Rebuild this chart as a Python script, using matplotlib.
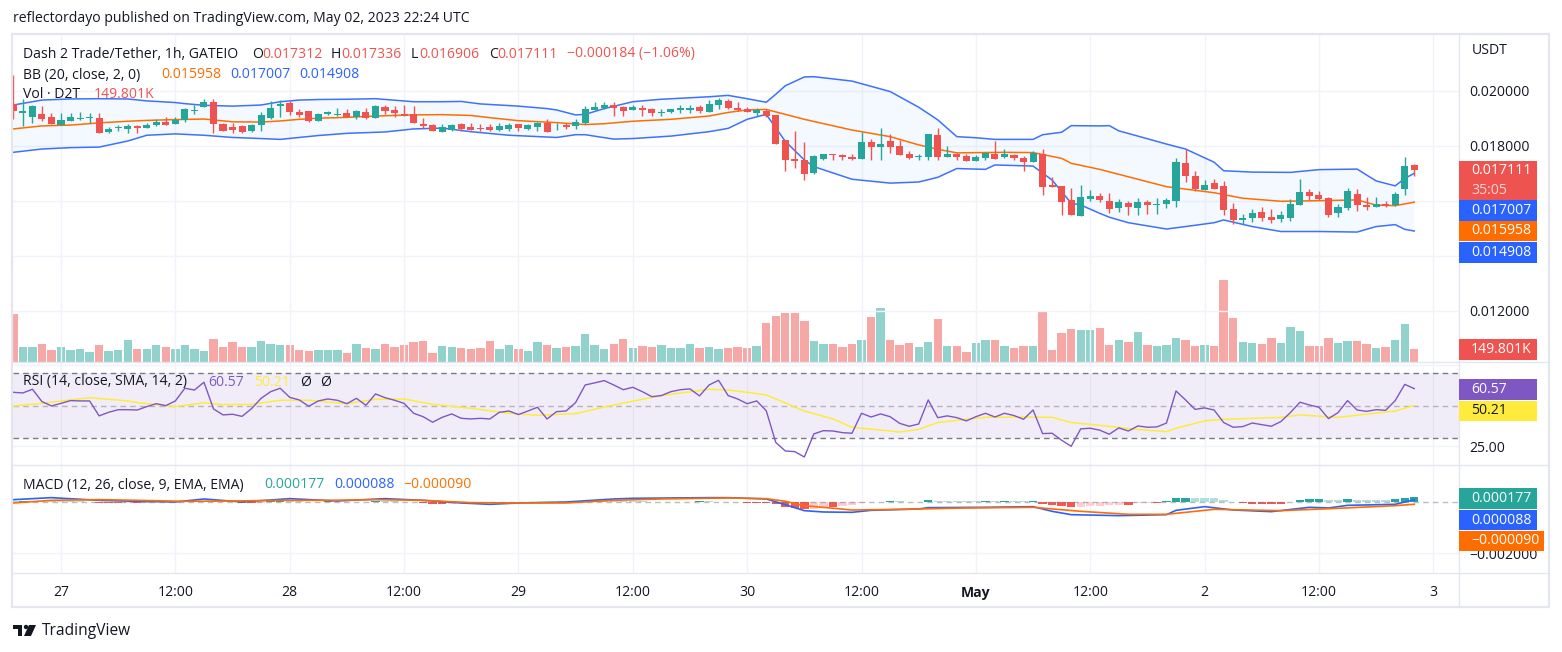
"""Dash 2 Trade/Tether 1h chart, TradingView style."""
import matplotlib
matplotlib.use('Agg')
import matplotlib.pyplot as plt
import numpy as np
from matplotlib.patches import Circle, Polygon, Rectangle

W, H = 1562, 652
LEFT, RIGHT = 13, 1459
TOP, VOL_BOTTOM, RSI_BOTTOM, MACD_BOTTOM, FRAME_BOTTOM = 35, 362, 465, 573, 607

GREEN = '#26a69a'
RED = '#ef5350'
BLUE = '#2962ff'
ORANGE = '#ff6d00'
PURPLE = '#7e57c2'
YELLOW = '#ffeb3b'
GRID = '#f0f3fa'
FRAME = '#e4e6ee'
TEXT = '#131722'

# prices in thousandths of USDT, hour -5 .. 142 (hour 0 is Apr 27 00:00)
open_m = [19.53, 19.21, 19.07, 19.15, 19.05,
          18.76, 18.92, 18.99, 19.01, 19.02, 18.51, 18.64, 18.61, 18.73, 18.67,
          18.76, 18.87, 18.81, 18.95, 19.28, 19.43, 19.59, 18.80, 18.68, 18.73,
          18.55, 18.78, 19.02, 19.47, 19.55, 19.24, 19.26, 18.92, 19.18, 19.14,
          19.19, 19.07, 19.22, 19.03, 19.42, 19.31, 19.16, 19.16, 18.80, 18.76,
          18.51, 18.59, 18.80, 18.69, 18.65, 18.69, 18.58, 18.62, 18.80, 18.62,
          18.69, 18.84, 18.68, 18.75, 18.73, 18.84, 19.31, 19.38, 19.49, 19.42,
          19.31, 19.38, 19.35, 19.21, 19.24, 19.31, 19.31, 19.42, 19.24, 19.49,
          19.64, 19.38, 19.35, 19.20, 19.27, 19.13, 18.22, 17.53, 17.49, 17.02,
          17.53, 17.71, 17.67, 17.60, 17.53, 18.15, 17.96, 18.18, 18.00, 17.71,
          17.60, 17.60, 18.40, 17.60, 17.71, 17.64, 17.45, 17.56, 17.71, 17.60,
          17.67, 17.56, 17.42, 17.71, 16.58, 16.55, 16.04, 15.45, 16.07, 16.18,
          16.00, 15.75, 15.93, 15.75, 15.96, 15.85, 15.89, 16.00, 17.38, 16.91,
          16.40, 16.65, 16.55, 15.71, 15.31, 15.38, 15.60, 15.42, 15.35, 15.38,
          15.85, 16.33, 16.22, 16.11, 15.56, 15.75, 16.26, 15.85, 15.78, 15.89,
          15.85, 16.44, 17.312]
high_m = [20.58, 19.70, 19.49, 19.45, 19.19,
          19.19, 19.21, 19.22, 19.19, 19.19, 18.70, 18.76, 18.80, 18.76, 18.82,
          18.97, 19.04, 19.04, 19.37, 19.49, 19.70, 19.72, 18.82, 18.82, 18.76,
          18.80, 19.25, 19.65, 19.67, 19.65, 19.35, 19.27, 19.21, 19.28, 19.37,
          19.33, 19.31, 19.37, 19.49, 19.49, 19.45, 19.49, 19.45, 19.01, 18.80,
          18.79, 18.80, 18.85, 18.82, 18.80, 18.80, 18.82, 18.82, 18.80, 18.80,
          18.88, 18.98, 18.82, 18.84, 18.97, 19.45, 19.60, 19.60, 19.60, 19.45,
          19.49, 19.49, 19.38, 19.35, 19.35, 19.49, 19.49, 19.49, 19.67, 19.75,
          19.71, 19.60, 19.42, 19.37, 19.33, 19.13, 18.22, 18.55, 18.15, 17.67,
          17.71, 17.71, 17.71, 17.71, 18.51, 18.25, 18.65, 18.44, 18.22, 17.82,
          17.71, 18.44, 18.65, 18.00, 17.73, 17.71, 17.67, 17.75, 18.18, 17.89,
          17.71, 17.64, 17.82, 17.89, 16.87, 16.55, 16.47, 16.58, 16.40, 16.29,
          16.29, 16.07, 16.00, 16.11, 16.04, 16.11, 16.11, 17.56, 17.89, 17.09,
          16.76, 16.80, 16.73, 15.93, 15.53, 15.71, 15.78, 15.71, 15.64, 16.07,
          16.80, 16.44, 16.36, 16.15, 15.89, 16.47, 16.44, 16.15, 16.15, 16.00,
          16.33, 17.60, 17.336]
low_m = [18.99, 18.74, 18.85, 18.92, 18.80,
         18.76, 18.91, 18.95, 18.85, 18.48, 18.48, 18.56, 18.48, 18.48, 18.65,
         18.74, 18.75, 18.80, 18.88, 19.16, 19.41, 18.48, 18.55, 18.48, 18.48,
         18.50, 18.56, 18.97, 19.04, 19.13, 19.07, 18.87, 18.91, 19.11, 19.09,
         19.05, 18.98, 18.99, 19.01, 19.16, 19.04, 19.09, 18.84, 18.64, 18.53,
         18.51, 18.55, 18.55, 18.57, 18.56, 18.55, 18.55, 18.55, 18.55, 18.58,
         18.55, 18.51, 18.58, 18.62, 18.62, 18.80, 19.30, 19.35, 19.09, 19.09,
         19.30, 19.09, 19.09, 19.09, 19.20, 19.20, 19.20, 19.20, 19.24, 19.35,
         19.35, 19.27, 19.24, 19.09, 19.06, 18.07, 17.09, 17.20, 16.76, 16.98,
         17.49, 17.49, 17.49, 17.49, 17.53, 17.49, 17.49, 17.75, 17.67, 17.53,
         17.49, 17.49, 17.49, 17.59, 17.49, 17.45, 17.45, 17.49, 17.52, 17.56,
         17.49, 17.09, 17.42, 16.22, 16.51, 15.49, 15.49, 15.45, 16.00, 15.98,
         15.56, 15.60, 15.49, 15.49, 15.53, 15.53, 15.75, 15.78, 16.69, 16.36,
         16.40, 16.44, 15.49, 15.16, 15.16, 15.24, 15.27, 15.20, 15.24, 15.27,
         15.85, 16.04, 16.04, 15.42, 15.42, 15.67, 15.64, 15.67, 15.78, 15.78,
         15.82, 16.22, 16.906]
close_m = [19.28, 19.27, 19.45, 18.98, 18.81,
           18.95, 19.05, 19.03, 19.05, 18.48, 18.62, 18.69, 18.73, 18.67, 18.76,
           18.86, 18.78, 18.95, 19.33, 19.31, 19.59, 18.79, 18.56, 18.59, 18.51,
           18.76, 19.13, 19.37, 19.53, 19.25, 19.14, 18.91, 19.18, 19.24, 19.18,
           19.07, 19.26, 19.03, 19.45, 19.27, 19.19, 19.10, 18.84, 18.73, 18.55,
           18.69, 18.76, 18.62, 18.58, 18.62, 18.58, 18.73, 18.76, 18.65, 18.76,
           18.84, 18.51, 18.70, 18.70, 18.87, 19.35, 19.42, 19.49, 19.38, 19.27,
           19.42, 19.31, 19.20, 19.25, 19.35, 19.38, 19.37, 19.27, 19.53, 19.67,
           19.38, 19.31, 19.24, 19.31, 19.09, 18.07, 17.49, 17.45, 16.98, 17.64,
           17.71, 17.67, 17.60, 17.53, 18.15, 17.96, 18.07, 17.96, 17.67, 17.56,
           17.65, 18.44, 17.60, 17.71, 17.60, 17.45, 17.60, 17.75, 17.53, 17.71,
           17.56, 17.42, 17.75, 16.51, 16.51, 15.96, 15.49, 16.15, 16.18, 16.04,
           15.71, 15.96, 15.78, 15.96, 15.85, 15.89, 16.04, 17.42, 16.91, 16.44,
           16.58, 16.44, 15.67, 15.31, 15.38, 15.56, 15.38, 15.31, 15.49, 15.89,
           16.33, 16.18, 16.07, 15.49, 15.78, 16.36, 15.85, 15.78, 15.89, 15.82,
           16.26, 17.27, 17.111]

# thousands
volume_k = [543, 172, 172, 206, 139,
            172, 139, 150, 116, 195, 127, 139, 251, 150, 150,
            195, 172, 150, 195, 150, 127, 262, 172, 228, 172,
            172, 240, 206, 195, 195, 139, 127, 139, 139, 139,
            105, 206, 161, 150, 206, 172, 195, 228, 240, 105,
            184, 172, 161, 150, 161, 240, 150, 195, 150, 127,
            228, 195, 161, 172, 184, 318, 195, 150, 206, 262,
            161, 184, 172, 195, 161, 161, 206, 161, 172, 150,
            161, 172, 161, 184, 442, 521, 554, 554, 464, 240,
            206, 206, 172, 206, 251, 509, 610, 251, 195, 217,
            172, 228, 487, 184, 184, 116, 217, 251, 251, 184,
            161, 184, 184, 565, 139, 330, 375, 363, 363, 386,
            195, 251, 228, 341, 195, 184, 195, 273, 251, 184,
            195, 184, 925, 498, 228, 217, 206, 273, 217, 397,
            352, 184, 184, 273, 217, 240, 240, 206, 161, 172,
            251, 431, 149.801]

rsi = [58.3, 57.9, 60.2, 52.6, 49.9,
       51.5, 53.2, 53.0, 53.0, 43.8, 46.0, 47.6, 47.6, 47.4, 49.5,
       51.3, 50.1, 53.0, 60.8, 59.7, 64.5, 48.1, 44.4, 44.8, 43.5,
       48.3, 54.6, 58.7, 60.8, 55.2, 53.6, 49.7, 53.0, 54.2, 53.4,
       51.3, 54.6, 50.3, 57.3, 55.0, 53.4, 51.5, 45.4, 43.3, 39.9,
       42.9, 45.0, 42.3, 41.9, 42.3, 41.9, 46.0, 46.8, 44.6, 46.8,
       49.1, 41.9, 46.4, 46.8, 52.0, 62.8, 64.1, 65.5, 62.8, 59.9,
       61.4, 58.7, 55.6, 56.3, 58.7, 59.9, 60.4, 56.1, 62.8, 65.7,
       56.3, 54.2, 51.3, 53.0, 47.0, 27.5, 22.2, 21.8, 18.5, 32.7,
       34.7, 34.5, 33.5, 33.1, 45.4, 43.1, 45.0, 43.3, 39.2, 37.4,
       38.8, 53.6, 42.7, 43.8, 42.7, 40.7, 43.3, 45.4, 43.1, 45.4,
       44.0, 41.7, 47.4, 32.9, 33.1, 28.8, 25.1, 35.8, 36.2, 35.0,
       32.5, 36.4, 34.5, 37.6, 36.8, 37.0, 39.4, 59.1, 53.6, 47.8,
       48.7, 47.4, 39.7, 36.8, 37.2, 39.4, 38.4, 37.4, 40.3, 45.8,
       52.2, 50.5, 49.1, 42.1, 45.8, 53.2, 47.4, 46.6, 47.6, 47.2,
       53.2, 63.2, 60.57]

# millionths of USDT
macd_hist_u = [26, 39, 39, 39, 39,
               26, 26, 26, 13, -26, -52, -52, -39, -39, -26,
               -13, -13, 13, 39, 39, 52, 26, 13, -13, -26,
               -39, -26, 26, 39, 39, 26, 13, 13, 26, 13,
               13, 13, 13, 39, 39, 26, 13, -13, -39, -78,
               -91, -65, -39, -13, -13, -13, -13, -13, -13, -13,
               -13, -13, -13, -13, 13, 39, 65, 65, 26, 26,
               26, 26, 13, 13, 13, 13, 13, 26, 26, 13,
               13, 0, -26, -26, -52, -91, -208, -234, -286, -273,
               -182, -182, -169, -130, -26, -13, 13, 52, 39, 13,
               13, 91, 39, 39, 39, 39, 39, 52, 39, 52,
               39, 39, 52, -65, -117, -169, -195, -182, -156, -143,
               -130, -104, -104, -39, -26, -26, 52, 169, 175, 169,
               169, 169, 91, 13, -26, -65, -65, -65, -65, 13,
               91, 100, 130, 91, 91, 130, 91, 91, 85, 85,
               100, 165, 177]

# Bollinger bands, read where the lines bend
bb_up_hours = [-5, -2, 1, 4, 7, 9, 12, 13, 15, 18, 21, 23, 25, 27, 30, 33, 37, 40, 42, 44, 48,
               51, 52, 54, 55, 57, 60, 63, 68, 70, 72, 74, 75, 76, 78, 79, 83, 87, 90, 92, 94,
               96, 98, 102, 103, 105, 106, 109, 110, 111, 113, 116, 118, 121, 122, 125, 129,
               132, 136, 138, 140, 141, 142]
bb_up = [19.49, 19.67, 19.71, 19.72, 19.71, 19.64, 19.58, 19.54, 19.48, 19.45, 19.49, 19.61,
         19.67, 19.69, 19.70, 19.72, 19.61, 19.61, 19.62, 19.53, 19.45, 19.36, 19.31, 19.13,
         19.15, 19.36, 19.61, 19.70, 19.79, 19.84, 19.72, 19.59, 19.88, 20.19, 20.51, 20.52,
         20.36, 19.98, 19.41, 18.95, 18.34, 18.30, 18.24, 18.24, 18.41, 18.50, 18.74, 18.73,
         18.74, 18.55, 18.36, 18.07, 17.89, 17.41, 17.10, 17.05, 17.04, 17.14, 17.16, 16.73,
         16.55, 16.82, 17.007]
bb_mid_hours = [-5, -2, 1, 4, 7, 9, 12, 15, 18, 21, 23, 25, 27, 30, 33, 37, 40, 43, 45, 48, 52,
                55, 57, 60, 64, 68, 70, 72, 74, 78, 83, 87, 90, 92, 94, 99, 102, 105, 106, 109,
                111, 116, 121, 124, 128, 132, 136, 138, 140, 142]
bb_mid = [18.62, 18.73, 18.76, 18.84, 18.90, 18.93, 18.96, 18.98, 18.88, 18.87, 18.91, 18.97,
          19.01, 19.04, 19.09, 19.13, 19.14, 19.11, 19.03, 18.92, 18.85, 18.78, 18.81, 18.90,
          18.97, 19.09, 19.22, 19.31, 19.33, 18.97, 18.58, 18.34, 18.04, 17.88, 17.75, 17.77,
          17.76, 17.55, 17.37, 17.15, 16.97, 16.52, 16.30, 16.10, 15.99, 16.01, 16.04, 15.85,
          15.83, 15.958]
bb_low_hours = [-5, -2, 1, 4, 7, 9, 12, 15, 18, 21, 23, 25, 27, 30, 34, 37, 40, 43, 47, 52, 54,
                55, 58, 60, 64, 68, 70, 72, 74, 76, 78, 79, 83, 87, 90, 92, 94, 97, 98, 102,
                104, 106, 107, 109, 110, 112, 116, 118, 121, 122, 125, 128, 132, 136, 138, 140,
                141, 142]
bb_low = [17.77, 17.89, 17.94, 17.96, 18.18, 18.39, 18.44, 18.39, 18.31, 18.27, 18.24, 18.31,
          18.38, 18.46, 18.51, 18.62, 18.65, 18.52, 18.39, 18.31, 18.41, 18.41, 18.25, 18.27,
          18.36, 18.52, 18.64, 18.97, 19.15, 18.17, 17.49, 17.25, 16.79, 16.65, 16.69, 16.86,
          17.18, 17.15, 17.31, 17.27, 16.76, 15.92, 15.855, 15.55, 15.41, 15.21, 14.98, 15.07,
          15.21, 15.31, 15.07, 14.89, 14.89, 14.87, 15.07, 15.14, 14.97, 14.908]

rsi_ma_hours = [-5, -2, 3, 7, 8, 12, 15, 17, 20, 23, 26, 30, 33, 36, 39, 43, 47, 50, 54, 58, 63,
                68, 70, 72, 74, 78, 81, 83, 88, 90, 92, 95, 97, 101, 104, 106, 108, 113, 116,
                117, 120, 122, 128, 130, 134, 140, 142]
rsi_ma = [49.9, 51.5, 55.0, 53.0, 52.0, 49.5, 51.8, 50.7, 50.9, 53.4, 53.4, 51.3, 54.0, 54.2,
          50.9, 48.5, 45.4, 44.2, 45.2, 50.5, 56.3, 60.2, 59.7, 58.3, 56.7, 46.8, 41.9, 36.8,
          33.9, 35.5, 39.7, 41.7, 42.9, 43.1, 42.9, 39.7, 38.6, 35.4, 34.1, 36.2, 40.7, 41.7,
          42.9, 44.4, 42.9, 46.8, 50.21]

macd_hours = [-5, -1, 4, 8, 12, 15, 19, 24, 29, 34, 38, 42, 45, 48, 53, 58, 60, 68, 70, 74, 76,
              78, 80, 83, 85, 90, 91, 97, 102, 104, 106, 111, 116, 117, 120, 123, 127, 131,
              133, 135, 140, 142]
macd_u = [91, 170, 65, 26, 0, 118, 0, 131, 39, 131, 65, -39, -92, -39, 0, 118, 144, 170, 170,
          118, -105, -340, -392, -405, -327, -274, -222, -209, -183, -366, -497, -536, -497,
          -327, -183, -314, -379, -209, -235, -131, -92, 88]
signal_hours = [-5, -1, 4, 8, 13, 18, 23, 28, 33, 38, 43, 48, 53, 58, 63, 70, 74, 76, 78, 83,
                86, 90, 95, 102, 107, 112, 116, 121, 128, 134, 140, 142]
signal_u = [-39, 65, 91, 65, 26, 39, 65, 65, 91, 65, -26, -39, -39, 65, 118, 157, 131, 26,
            -144, -314, -301, -274, -235, -209, -366, -484, -484, -288, -340, -248, -144, -90]

tick_hours = [0, 12, 24, 36, 48, 60, 72, 84, 96, 108, 120, 132, 144]
tick_labels = ['27', '12:00', '28', '12:00', '29', '12:00', '30', '12:00', 'May', '12:00', '2',
               '12:00', '3']
price_ticks = [0.012, 0.014, 0.016, 0.018, 0.020]
price_tick_labels = ['0.012000', '', '', '0.018000', '0.020000']


def pane(y0, y1):
    ax = fig.add_axes([LEFT / W, 1 - y1 / H, (RIGHT - LEFT) / W, (y1 - y0) / H])
    ax.set_xlim((LEFT - 61) / 9.53, (RIGHT - 61) / 9.53)
    for spine in ax.spines.values():
        spine.set_visible(False)
    ax.yaxis.tick_right()
    ax.tick_params(length=0, labelsize=FS, labelcolor=TEXT, labelbottom=False, pad=7.5)
    ax.set_xticks(tick_hours)
    ax.grid(True, color=GRID, lw=1)
    ax.set_axisbelow(True)
    return ax


def tag(y0, y1, text, color, right=1537):
    over.add_patch(Rectangle((RIGHT, y0), right - RIGHT, y1 - y0, color=color, lw=0, zorder=3))
    over.text(1471, (y0 + y1) / 2, text, color='white', fontsize=FS, va='center', zorder=4)


def label(x, y, text, color=TEXT):
    over.text(x, y, text, color=color, fontsize=FS, va='center')


plt.rcParams['font.family'] = ['Open Sans', 'DejaVu Sans']
FS = 10.1

fig = plt.figure(figsize=(W / 100, H / 100), dpi=100, facecolor='white')

hours = np.arange(-5, -5 + len(close_m))
opens = np.array(open_m) / 1000
highs = np.array(high_m) / 1000
lows = np.array(low_m) / 1000
closes = np.array(close_m) / 1000
colors = [GREEN if c >= o else RED for o, c in zip(opens, closes)]

# price pane with volume underneath
ax_price = pane(TOP, VOL_BOTTOM)
ax_vol = ax_price.twinx()
ax_price.yaxis.tick_right()
ax_vol.set_zorder(1)
ax_price.set_zorder(2)
ax_price.patch.set_visible(False)
ax_vol.set_ylim(0, 3674)
ax_vol.axis('off')
ax_vol.bar(hours, volume_k, width=0.88, color=colors, alpha=0.5, lw=0)

ax_price.set_ylim(0.010145, 0.022036)
ax_price.set_yticks(price_ticks)
ax_price.set_yticklabels(price_tick_labels)
band_x = np.r_[bb_up_hours, bb_low_hours[::-1]]
band_y = np.r_[bb_up, bb_low[::-1]] / 1000
ax_price.fill(band_x, band_y, color='#2196f3', alpha=0.05, lw=0)
ax_price.plot(bb_up_hours, np.array(bb_up) / 1000, color=BLUE, lw=1.1, alpha=0.9)
ax_price.plot(bb_low_hours, np.array(bb_low) / 1000, color=BLUE, lw=1.1, alpha=0.9)
ax_price.plot(bb_mid_hours, np.array(bb_mid) / 1000, color=ORANGE, lw=1.1)
ax_price.vlines(hours, lows, highs, colors=colors, lw=1, zorder=3)
ax_price.bar(hours, np.abs(closes - opens), bottom=np.minimum(opens, closes), width=0.74,
             color=colors, lw=0, zorder=4)

# RSI pane
ax_rsi = pane(VOL_BOTTOM, RSI_BOTTOM)
ax_rsi.set_ylim(13.57, 76.95)
ax_rsi.set_yticks([25, 75])
ax_rsi.set_yticklabels(['25.00', ''])
ax_rsi.axhspan(30, 70, color=PURPLE, alpha=0.1, lw=0)
for level, dash in [(70, (4, 3)), (50, (4, 3)), (30, (4, 3))]:
    ax_rsi.axhline(level, color='#787b86', lw=1, dashes=dash, alpha=0.5 if level == 50 else 1)
ax_rsi.plot(rsi_ma_hours, rsi_ma, color=YELLOW, lw=1.1)
ax_rsi.plot(hours, rsi, color=PURPLE, lw=1)

# MACD pane
hist = np.array(macd_hist_u) / 1e6
hist_colors = []
for i, v in enumerate(hist):
    rising = i > 0 and v > hist[i - 1]
    if v >= 0:
        hist_colors.append('#26a69a' if rising else '#b2dfdb')
    else:
        hist_colors.append('#ffcdd2' if rising else '#ff5252')
ax_macd = pane(RSI_BOTTOM, MACD_BOTTOM)
ax_macd.set_ylim(-0.002784, 0.00145)
ax_macd.set_yticks([-0.002])
ax_macd.set_yticklabels(['\u22120.002000'])
ax_macd.axhline(0, color='#787b86', lw=1, dashes=(4, 3), alpha=0.5)
ax_macd.bar(hours, hist, width=0.88, color=hist_colors, lw=0)
ax_macd.plot(macd_hours, np.array(macd_u) / 1e6, color=BLUE, lw=1.2)
ax_macd.plot(signal_hours, np.array(signal_u) / 1e6, color=ORANGE, lw=1.2)
ax_macd.set_xticks(tick_hours)
ax_macd.set_xticklabels(tick_labels)
ax_macd.tick_params(axis='x', labelbottom=True, pad=9)
ax_macd.get_xticklabels()[8].set_fontweight('bold')

# everything else is laid out in pixels on a sheet over the panes
over = fig.add_axes([0, 0, 1, 1], zorder=10)
over.set_xlim(0, W)
over.set_ylim(H, 0)
over.axis('off')
over.patch.set_visible(False)

over.add_patch(Rectangle((12, 34), 1537, FRAME_BOTTOM - 34, fill=False, ec=FRAME, lw=1.6))
over.plot([RIGHT, RIGHT], [34, FRAME_BOTTOM], color=FRAME, lw=1)
for y in (VOL_BOTTOM, RSI_BOTTOM, MACD_BOTTOM):
    over.plot([12, 1549], [y, y], color=FRAME, lw=1)

label(13, 19, 'reflectordayo published on TradingView.com, May 02, 2023 22:24 UTC')
label(1472, 50, 'USDT')

label(23, 54, 'Dash 2 Trade/Tether, 1h, GATEIO')
for x, t in [(252, 'O'), (331, 'H'), (411, 'L'), (489, 'C')]:
    label(x, 54, t)
for x, t in [(262, '0.017312'), (341, '0.017336'), (419, '0.016906'), (497, '0.017111'),
             (567, '\u22120.000184 (\u22121.06%)')]:
    label(x, 54, t, RED)
label(23, 75, 'BB (20, close, 2, 0)')
label(161, 75, '0.015958', ORANGE)
label(230, 75, '0.017007', BLUE)
label(299, 75, '0.014908', BLUE)
label(23, 95, 'Vol \u00b7 D2T')
label(94, 95, '149.801K', RED)
label(23, 382, 'RSI (14, close, SMA, 14, 2)')
label(208, 382, '60.57', PURPLE)
label(254, 382, '50.21', YELLOW)
label(300, 382, '\u00d8')
label(320, 382, '\u00d8')
label(23, 485, 'MACD (12, 26, close, 9, EMA, EMA)')
label(264, 485, '0.000177', GREEN)
label(334, 485, '0.000088', BLUE)
label(403, 485, '\u22120.000090', ORANGE)

tag(161, 199.5, '', RED)
over.text(1471, 171, '0.017111', color='white', fontsize=FS, va='center', zorder=4)
over.text(1471, 190, '35:05', color='#fcd6d5', fontsize=FS, va='center', zorder=4)
tag(200, 220.5, '0.017007', BLUE)
tag(221, 241, '0.015958', ORANGE)
tag(242, 262.5, '0.014908', BLUE)
tag(339, 360, '149.801K', RED)
tag(379, 400, '60.57', PURPLE)
tag(401, 421, '50.21', YELLOW)
over.texts[-1].set_color(TEXT)
tag(488, 509, '0.000177', GREEN)
tag(510, 530, '0.000088', BLUE)
tag(531, 551, '\u22120.000090', ORANGE, right=1544)

# footer logo
over.add_patch(Rectangle((13, 625), 9, 4, color=TEXT, lw=0))
over.add_patch(Rectangle((18, 625), 4, 11, color=TEXT, lw=0))
over.add_patch(Circle((26, 627), 2.2, color=TEXT, lw=0))
over.add_patch(Polygon([(29, 625), (36, 625), (31, 636), (24, 636)], color=TEXT, lw=0))
over.text(42, 631, 'TradingView', color=TEXT, fontsize=11.2, va='center')

fig.savefig('out.png', dpi=100)
